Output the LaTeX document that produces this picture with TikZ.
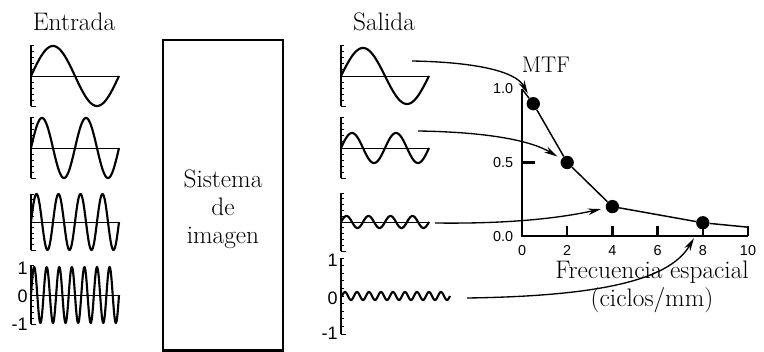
\documentclass[tikz,border=0pt]{standalone}
\usepackage{fontspec}
\newfontfamily\tickfont{Liberation Sans}
\usetikzlibrary{arrows.meta}
\tikzset{
  axisline/.style={line width=1.5pt},
  tickline/.style={line width=0.6pt},
  zeroline/.style={line width=0.6pt},
  waveline/.style={line width=1.6pt,line join=round},
  mapsto/.style={-{Stealth[length=10pt,width=5pt]},line width=1pt,shorten >=3.5pt},
  mtfdot/.style={circle,fill=black,inner sep=0pt,minimum size=10pt},
  bigtext/.style={font=\fontsize{19}{21}\selectfont},
  ticklabel/.style={font=\tickfont\fontsize{10.8}{12}\selectfont,inner sep=0pt},
  scalelabel/.style={font=\tickfont\fontsize{13.5}{15}\selectfont,inner sep=0pt,anchor=east},
}

\begin{document}
\begin{tikzpicture}[x=0.75pt,y=-0.75pt]
\useasboundingbox (0,0) rectangle (764,352);

% titles
\node[bigtext] (entrada) at (74,22) {Entrada};
\node[bigtext] (salida) at (384,22) {Salida};

% wave axes: x / zero / half height
\foreach \xa/\yo/\h in {31/76/30.5,31/148/30.5,31/222/28,31/295/29.5,
                        341/76/30.5,341/148/30.5,341/222/29,341/296/38} {
  \draw[axisline] (\xa,\yo-\h) -- (\xa,\yo+\h);
  \foreach \t in {0,...,10}
    \draw[tickline] (\xa,\yo-\h+\t*\h/5) -- ++(3,0);
  \draw[tickline] (\xa,\yo+\h) -- ++(5,0);
}

% input waves (4.0909 = 360/88)
\foreach \yo/\n/\amp in {76/1/30,148/2/30,222/4/28,295/7/28} {
  \draw[zeroline] (31,\yo) -- (119,\yo);
  \draw[waveline] plot[domain=0:88,samples=200] ({31+\x},{\yo-\amp*sin(4.0909*\n*\x)});
}
% output waves
\foreach \yo/\n/\amp in {76/1/28,148/2/15,222/4/6} {
  \draw[zeroline] (341,\yo) -- (429,\yo);
  \draw[waveline] plot[domain=0:88,samples=200] ({341+\x},{\yo-\amp*sin(4.0909*\n*\x)});
}
\draw[waveline] plot[domain=0:108,samples=240] ({342+\x},{296-4*sin(30*\x)});

\node[scalelabel] (inone) at (28,268) {1};
\node[scalelabel] (inzero) at (28,296) {0};
\node[scalelabel] (inmone) at (28,324) {-1};
\node[scalelabel] (outone) at (338,260) {1};
\node[scalelabel] (outzero) at (338,298) {0};
\node[scalelabel] (outmone) at (338,333) {-1};

% imaging system
\node[draw,line width=2pt,minimum width=90pt,minimum height=233pt] (sys) at (223,195.5) {};
\node[bigtext,align=center] (syslabel) at (223,209) {Sistema\\de\\imagen};

% MTF chart
\begin{scope}[shift={(522,236)},x=16.95pt,y=110.25pt]
  \draw[line width=2.2pt] (0,1) -- (0,0) -- (10,0);
  \foreach \v in {2,4,...,10}
    \draw[line width=1.8pt] (\v,0) -- ++(0,7.5pt);
  \draw[line width=1.8pt] (0,0.5) -- ++(9.75pt,0);
  \foreach \v in {0,2,...,10}
    \node[ticklabel] (xl\v) at (\v,-0.1) {\v};
  \node[ticklabel] (ylone) at (-0.84,1) {1.0};
  \node[ticklabel] (ylhalf) at (-0.84,0.5) {0.5};
  \node[ticklabel] (ylzero) at (-0.84,-0.007) {0.0};

  \coordinate (p0) at (0,1);
  \node[mtfdot] (p1) at (0.5,0.9) {};
  \node[mtfdot] (p2) at (2,0.5) {};
  \node[mtfdot] (p3) at (4,0.2) {};
  \node[mtfdot] (p4) at (8,0.09) {};
  \coordinate (pend) at (10,0.06);
  \draw[line width=1.1pt] (p0) -- (p1) -- (p2) -- (p3) -- (p4) -- (pend);
\end{scope}

\node[font=\fontsize{17}{19}\selectfont] (mtf) at (546,65) {MTF};
\node[bigtext,align=center] (freq) at (652,286.5) {Frecuencia espacial\\(ciclos/mm)};

% output to MTF
\coordinate (s1) at (412,61);
\coordinate (s2) at (418,131);
\coordinate (s3) at (435,223);
\coordinate (s4) at (467,298);
\draw[mapsto] (s1) .. controls (470,62) and (515,70) .. (p1);
\draw[mapsto] (s2) .. controls (485,132) and (530,140) .. (p2);
\draw[mapsto] (s3) .. controls (510,224) and (560,218) .. (p3);
\draw[mapsto,shorten >=8pt] (s4) .. controls (615,296) and (672,276) .. (p4);
\end{tikzpicture}
\end{document}
